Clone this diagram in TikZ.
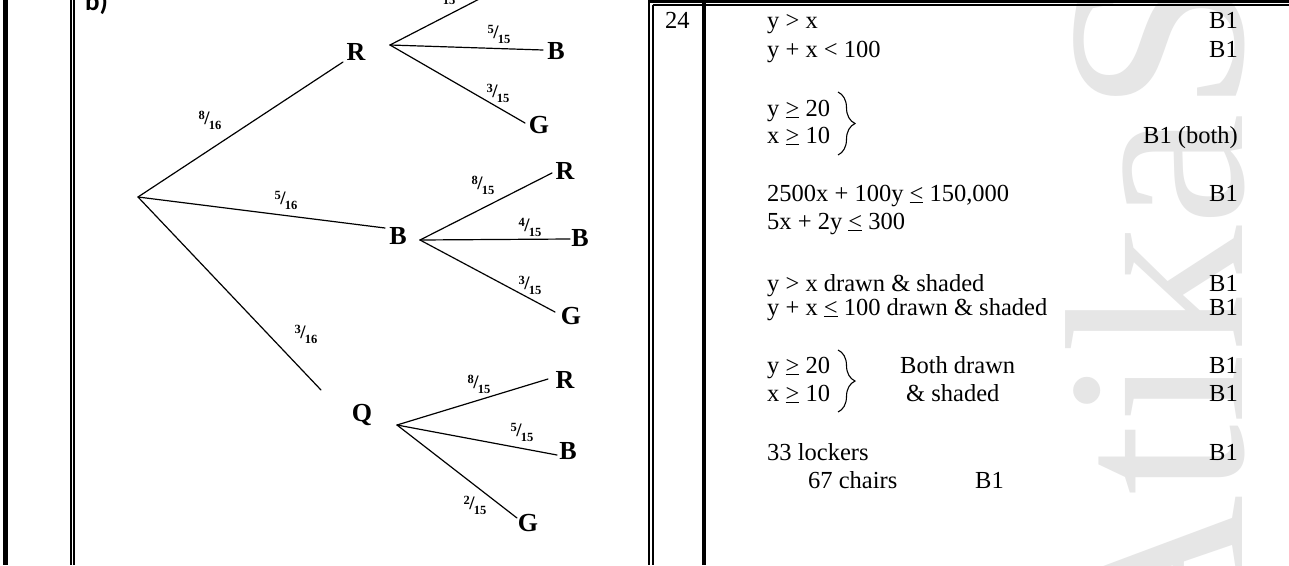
\documentclass[tikz,border=0pt]{standalone}
\usepackage{fontspec}
\setmainfont{Liberation Serif}
\newfontfamily\sansb{Carlito}
\usetikzlibrary{decorations.pathreplacing}
\definecolor{wmgray}{RGB}{230,230,230}
\newcommand{\fr}[2]{{\fontsize{12.5}{12.5}\selectfont\bfseries\raisebox{5pt}{#1}\kern-0.5pt{\fontsize{19}{19}\selectfont/}\kern-1pt\raisebox{-5pt}{#2}}}
\newcommand{\ul}[1]{\underline{#1}}
\begin{document}
\begin{tikzpicture}[x=1pt,y=-1pt,
  br/.style={line width=1.2pt, line cap=round},
  ltr/.style={inner sep=0pt, font=\fontsize{26}{26}\selectfont\bfseries},
  lbl/.style={inner sep=0pt},
  txt/.style={anchor=base west, inner sep=0pt, font=\fontsize{24.5}{28}\selectfont},
  rtxt/.style={anchor=base east, inner sep=0pt, font=\fontsize{24.5}{28}\selectfont},
  bracestyle/.style={decorate, decoration={brace, amplitude=17pt}, line width=1.1pt}]
\useasboundingbox (0,0) rectangle (1289,565);
\clip (0,0) rectangle (1289,565);
\fill[white] (0,0) rectangle (1289,565);
% watermark
\node[rotate=90, anchor=base west, inner sep=0pt, text=wmgray, font=\fontsize{255}{255}\selectfont] (wm) at (1242,680) {AtikaSchool};
% frame lines
\draw[line width=5pt] (5.5,0) -- (5.5,565);
\draw[line width=2.2pt] (71.2,0) -- (71.2,565);
\draw[line width=1.8pt] (74.3,0) -- (74.3,565);
\draw[line width=2pt] (649,0) -- (649,565);
\draw[line width=1.8pt] (652.6,5) -- (652.6,565);
\draw[line width=2.6pt] (649,1.3) -- (1289,1.3);
\draw[line width=1.8pt] (652.6,5.2) -- (1289,5.2);
\draw[line width=4.3pt] (704.2,0) -- (704.2,565);
% b)
\node[anchor=base west, inner sep=0pt, font=\sansb\fontsize{27}{27}\selectfont\bfseries] (blab) at (85,10) {b)};
% tree coordinates
\coordinate (root) at (138,197);
\coordinate (eR) at (343,62);  \coordinate (jR) at (390,45);
\coordinate (eB) at (385,228); \coordinate (jB) at (420,240);
\coordinate (eQ) at (321,390); \coordinate (jQ) at (397,425);
\coordinate (eRR) at (520,-22); \coordinate (eRB) at (543,50); \coordinate (eRG) at (525,123);
\coordinate (eBR) at (552,173); \coordinate (eBB) at (570,239); \coordinate (eBG) at (555,312);
\coordinate (eQR) at (548,379); \coordinate (eQB) at (557,455); \coordinate (eQG) at (517,518);
% letters
\node[ltr] (R1) at (356,52) {R};
\node[ltr] (B1n) at (398,236) {B};
\node[ltr] (Q1) at (362,415) {Q};
\node[ltr] (RB) at (556,51) {B};
\node[ltr] (RG) at (539,125) {G};
\node[ltr] (BR) at (565,171) {R};
\node[ltr] (BB) at (580,238) {B};
\node[ltr] (BG) at (571,316) {G};
\node[ltr] (QR) at (565,380) {R};
\node[ltr] (QB) at (568,451) {B};
\node[ltr] (QG) at (528,523) {G};
% branches
\draw[br] (root) -- (eR);
\draw[br] (root) -- (eB);
\draw[br] (root) -- (eQ);
\draw[br] (jR) -- (eRR);
\draw[br] (jR) -- (eRB);
\draw[br] (jR) -- (eRG);
\draw[br] (jB) -- (eBR);
\draw[br] (jB) -- (eBB);
\draw[br] (jB) -- (eBG);
\draw[br] (jQ) -- (eQR);
\draw[br] (jQ) -- (eQB);
\draw[br] (jQ) -- (eQG);
% probabilities
\node[lbl] (p1) at (210,120) {\fr{8}{16}};
\node[lbl] (p2) at (286,200) {\fr{5}{16}};
\node[lbl] (p3) at (306,334) {\fr{3}{16}};
\node[lbl] (p4) at (444,-5) {\fr{7}{15}};
\node[lbl] (p5) at (499,34) {\fr{5}{15}};
\node[lbl] (p6) at (498,93) {\fr{3}{15}};
\node[lbl] (p7) at (483,185) {\fr{8}{15}};
\node[lbl] (p8) at (530,227) {\fr{4}{15}};
\node[lbl] (p9) at (530,285) {\fr{3}{15}};
\node[lbl] (p10) at (479,384) {\fr{8}{15}};
\node[lbl] (p11) at (522,432) {\fr{5}{15}};
\node[lbl] (p12) at (475,505) {\fr{2}{15}};
% table text
\node[txt] (qn) at (665,28) {24};
\node[txt] (l1) at (767,28) {y > x};
\node[txt] (l2) at (767,57) {y + x < 100};
\node[txt] (l3) at (767,116) {y \ul{>} 20};
\node[txt] (l4) at (767,143) {x \ul{>} 10};
\node[txt] (l5) at (767,201) {2500x + 100y \ul{<} 150,000};
\node[txt] (l6) at (767,229) {5x + 2y \ul{<} 300};
\node[txt] (l7) at (767,291) {y > x drawn \& shaded};
\node[txt] (l8) at (767,315) {y + x \ul{<} 100 drawn \& shaded};
\node[txt] (l9) at (767,373) {y \ul{>} 20};
\node[txt] (l10) at (767,401) {x \ul{>} 10};
\node[txt] (l11) at (900,373) {Both drawn};
\node[txt] (l12) at (906,401) {\& shaded};
\node[txt] (l13) at (767,460) {33 lockers};
\node[txt] (l14) at (808,488) {67 chairs};
\node[txt] (m14) at (975,488) {B1};
\node[rtxt] (m1) at (1238,28) {B1};
\node[rtxt] (m2) at (1238,57) {B1};
\node[rtxt] (m3) at (1238,143) {B1 (both)};
\node[rtxt] (m5) at (1238,201) {B1};
\node[rtxt] (m7) at (1238,291) {B1};
\node[rtxt] (m8) at (1238,315) {B1};
\node[rtxt] (m9) at (1238,373) {B1};
\node[rtxt] (m10) at (1238,401) {B1};
\node[rtxt] (m13) at (1238,460) {B1};
% braces
\coordinate (b1t) at (838,92); \coordinate (b1b) at (838,155);
\coordinate (b2t) at (838,350); \coordinate (b2b) at (838,412);
\draw[bracestyle] (b1t) -- (b1b);
\draw[bracestyle] (b2t) -- (b2b);
\end{tikzpicture}
\end{document}
